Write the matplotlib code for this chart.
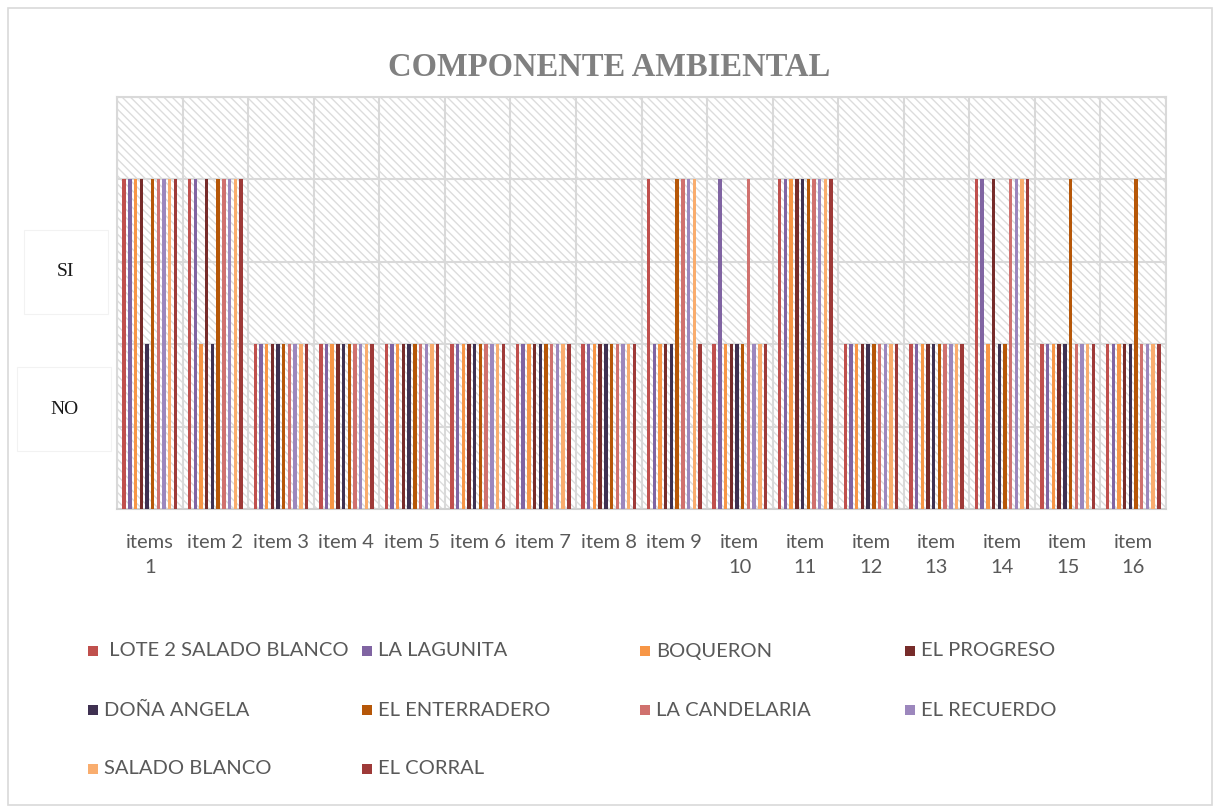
import matplotlib.pyplot as plt
from matplotlib.patches import Rectangle

# categories (x tick labels, wrapped like the original)
items = ["items\n1", "item 2", "item 3", "item 4", "item 5", "item 6", "item 7",
         "item 8", "item 9", "item\n10", "item\n11", "item\n12", "item\n13",
         "item\n14", "item\n15", "item\n16"]

# 1 = NO, 2 = SI
lote2_salado_blanco = [2, 2, 1, 1, 1, 1, 1, 1, 2, 1, 2, 1, 1, 2, 1, 1]
la_lagunita         = [2, 2, 1, 1, 1, 1, 1, 1, 1, 2, 2, 1, 1, 2, 1, 1]
boqueron            = [2, 1, 1, 1, 1, 1, 1, 1, 1, 1, 2, 1, 1, 1, 1, 1]
el_progreso         = [2, 2, 1, 1, 1, 1, 1, 1, 1, 1, 2, 1, 1, 2, 1, 1]
dona_angela         = [1, 1, 1, 1, 1, 1, 1, 1, 1, 1, 2, 1, 1, 1, 1, 1]
el_enterradero      = [2, 2, 1, 1, 1, 1, 1, 1, 2, 1, 2, 1, 1, 1, 2, 2]
la_candelaria       = [2, 2, 1, 1, 1, 1, 1, 1, 2, 2, 2, 1, 1, 2, 1, 1]
el_recuerdo         = [2, 2, 1, 1, 1, 1, 1, 1, 2, 1, 2, 1, 1, 2, 1, 1]
salado_blanco       = [2, 2, 1, 1, 1, 1, 1, 1, 2, 1, 2, 1, 1, 2, 1, 1]
el_corral           = [2, 2, 1, 1, 1, 1, 1, 1, 1, 1, 2, 1, 1, 2, 1, 1]

series_names = [" LOTE 2 SALADO BLANCO", "LA LAGUNITA", "BOQUERON", "EL PROGRESO",
                "DOÑA ANGELA", "EL ENTERRADERO", "LA CANDELARIA", "EL RECUERDO",
                "SALADO BLANCO", "EL CORRAL"]
series_values = [lote2_salado_blanco, la_lagunita, boqueron, el_progreso, dona_angela,
                 el_enterradero, la_candelaria, el_recuerdo, salado_blanco, el_corral]
colors = ["#C0504D", "#8064A2", "#F79646", "#772C2A", "#3F3151",
          "#B65708", "#D0716E", "#9C87BD", "#F9AD6E", "#9E3A38"]

plt.rcParams['font.family'] = ['Lato', 'DejaVu Sans']

fig = plt.figure(figsize=(12.19, 8.10), dpi=100)
fig.patches.append(Rectangle((8 / 1219, 5 / 810), 1204 / 1219, 797 / 810,
                             transform=fig.transFigure, facecolor='none',
                             edgecolor='#d9d9d9', lw=1.2, zorder=-1))

ax = fig.add_axes([117 / 1219, 1 - 509 / 810, 1049 / 1219, 412 / 810])
ax.patch.set_visible(False)
# hatched plot area background
ax.add_patch(Rectangle((0, 0), 1, 1, transform=ax.transAxes, facecolor='white',
                       edgecolor='#dcdcdc', hatch='\\\\\\\\', lw=0, zorder=0))

n = len(series_values)
slot = 0.87 / n
x = range(len(items))
for i, (vals, col) in enumerate(zip(series_values, colors)):
    pos = [xi + (i - (n - 1) / 2) * slot for xi in x]
    ax.bar(pos, vals, width=slot * 0.6, color=col, zorder=3)

ax.set_xlim(-0.5, len(items) - 0.5)
ax.set_ylim(0, 2.5)
ax.set_yticks([0, 0.5, 1, 1.5, 2, 2.5])
ax.set_yticklabels([])
ax.set_xticks([i + 0.5 for i in range(-1, len(items))], minor=True)
ax.set_xticks(list(x))
ax.set_xticklabels(items, fontsize=14.5, color='#595959', linespacing=1.6)
ax.tick_params(axis='both', length=0)
ax.tick_params(axis='x', pad=18)
ax.tick_params(axis='both', which='minor', length=0)
ax.grid(True, axis='y', which='major', color='#d9d9d9', lw=1.5, zorder=1)
ax.grid(True, axis='x', which='minor', color='#d9d9d9', lw=1.5, zorder=1)
for s in ['top', 'right', 'left']:
    ax.spines[s].set_color('#d9d9d9')
    ax.spines[s].set_linewidth(1.5)
ax.spines['bottom'].set_color('#d0d0d0')
ax.spines['bottom'].set_linewidth(1.5)

fig.text(0.5, 1 - 68 / 810, "COMPONENTE AMBIENTAL", ha='center', va='center',
         fontsize=23.5, fontweight='bold', color='#808080', family='Liberation Serif')

box = dict(facecolor='white', edgecolor='#f2f2f2', lw=0.8, pad=24)
fig.text(66 / 1219, 1 - 272 / 810, "SI", ha='center', va='center', fontsize=14,
         family='Liberation Serif', color='#1a1a1a', bbox=box)
fig.text(64 / 1219, 1 - 409 / 810, "NO", ha='center', va='center', fontsize=14,
         family='Liberation Serif', color='#1a1a1a', bbox=box)

# legend, laid out in rows of four like the original
col_x = [88, 362, 640, 905]
row_y = [651, 710, 769]
for i, (name, col) in enumerate(zip(series_names, colors)):
    r, c = divmod(i, 4)
    fig.patches.append(Rectangle((col_x[c] / 1219, 1 - (row_y[r] + 5) / 810),
                                 10 / 1219, 10 / 810, transform=fig.transFigure,
                                 facecolor=col, edgecolor='none'))
    fig.text((col_x[c] + 16) / 1219, 1 - row_y[r] / 810, name, ha='left',
             va='center', fontsize=14.5, color='#595959')

fig.savefig('out.png', dpi=100)
